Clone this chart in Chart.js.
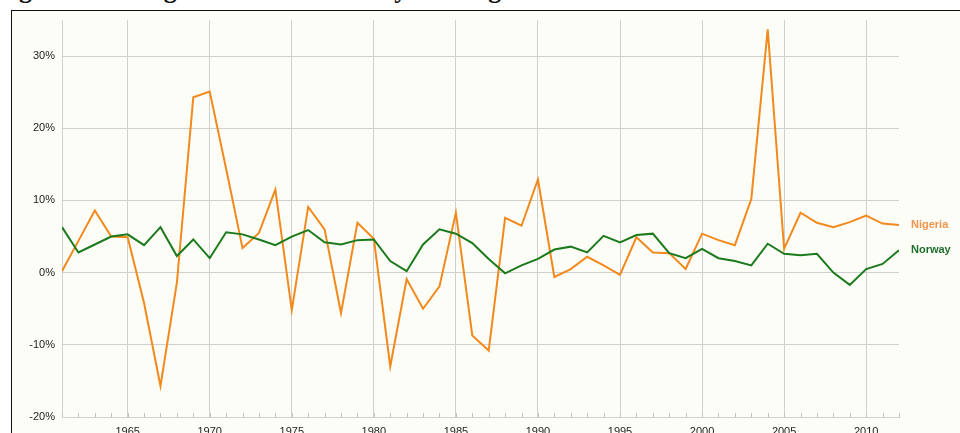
<!DOCTYPE html>
<html>
<head>
<meta charset="utf-8">
<script src="https://cdn.jsdelivr.net/npm/chart.js@4.4.0/dist/chart.umd.min.js"></script>
<style>
  html, body { margin: 0; padding: 0; background: #fff; overflow: hidden; width: 960px; height: 433px; }
  #title { position: absolute; left: -4px; top: -23px; font: bold 26px "Liberation Serif", "Times New Roman", serif; line-height: 26px; color: #111; white-space: nowrap; }
  #frame { position: absolute; left: 11px; top: 10px; width: 980px; height: 460px; border-top: 1px solid #111; border-left: 1px solid #111; background: #fdfdf8; }
  #c { position: absolute; left: 0; top: 0; }
</style>
</head>
<body>
<div id="title">Figure 1: GDP growth rates: Norway and Nigeria</div>
<div id="frame"></div>
<canvas id="c" width="960" height="445"></canvas>
<script>
// GDP growth, annual %
var years = [];
for (var y = 1961; y <= 2012; y++) years.push(y);

var nigeria = [0.2, 4.4, 8.6, 5.0, 4.9, -4.2, -15.7, -1.4, 24.3, 25.1,
               14.4, 3.4, 5.5, 11.5, -5.2, 9.1, 6.0, -5.6, 6.9, 4.7,
               -13.0, -0.9, -5.0, -1.9, 8.3, -8.7, -10.8, 7.6, 6.5, 12.9,
               -0.6, 0.5, 2.2, 1.0, -0.3, 4.9, 2.8, 2.7, 0.5, 5.4,
               4.5, 3.8, 10.2, 33.7, 3.3, 8.3, 6.9, 6.3, 7.0, 7.9,
               6.8, 6.6];

var norway = [6.3, 2.8, 3.9, 5.0, 5.3, 3.8, 6.3, 2.3, 4.6, 2.0,
              5.6, 5.3, 4.6, 3.8, 5.0, 5.9, 4.2, 3.9, 4.5, 4.6,
              1.6, 0.2, 3.9, 6.0, 5.4, 4.1, 1.9, -0.1, 1.0, 1.9,
              3.2, 3.6, 2.8, 5.1, 4.2, 5.2, 5.4, 2.7, 2.0, 3.3,
              2.0, 1.6, 1.0, 4.0, 2.6, 2.4, 2.6, 0.0, -1.7, 0.5,
              1.2, 3.1];

var yTicks = [-20, -10, 0, 10, 20, 30];

var gridCol = '#d0d0d0';

function toPoints(vals) {
  var pts = [];
  for (var i = 0; i < vals.length; i++) pts.push({x: years[i], y: vals[i]});
  return pts;
}

// series name at end of each line
var endLabels = {
  id: 'endLabels',
  afterDatasetsDraw: function(chart) {
    var ctx = chart.ctx;
    ctx.save();
    ctx.font = 'bold 11px "Liberation Sans", Arial, sans-serif';
    ctx.textBaseline = 'middle';
    ctx.textAlign = 'left';
    chart.data.datasets.forEach(function(ds, i) {
      var meta = chart.getDatasetMeta(i);
      var last = meta.data[meta.data.length - 1];
      ctx.fillStyle = ds.labelColor;
      ctx.fillText(ds.label, last.x + 12, last.y);
    });
    ctx.restore();
  }
};

// little year ticks standing on the bottom axis
var minorTicks = {
  id: 'minorTicks',
  beforeDatasetsDraw: function(chart) {
    var ctx = chart.ctx, xs = chart.scales.x, bottom = chart.chartArea.bottom;
    ctx.save();
    ctx.strokeStyle = '#c4c4c4';
    ctx.lineWidth = 1;
    xs.ticks.forEach(function(t) {
      var px = Math.round(xs.getPixelForValue(t.value)) + 0.5;
      ctx.beginPath();
      ctx.moveTo(px, bottom - 4);
      ctx.lineTo(px, bottom);
      ctx.stroke();
    });
    ctx.restore();
  }
};

var myChart = new Chart(document.getElementById('c').getContext('2d'), {
  type: 'line',
  data: {
    datasets: [
      { label: 'Norway', data: toPoints(norway), borderColor: '#1b7a1b', labelColor: '#1e6e2c',
        borderWidth: 2, pointRadius: 0, tension: 0, fill: false },
      { label: 'Nigeria', data: toPoints(nigeria), borderColor: '#f2891d', labelColor: '#f0944a',
        borderWidth: 2, pointRadius: 0, tension: 0, fill: false }
    ]
  },
  options: {
    responsive: false,
    animation: false,
    devicePixelRatio: 1,
    layout: { padding: { left: 0, top: 20, right: 61, bottom: 0 } },
    plugins: { legend: { display: false }, tooltip: { enabled: false }, title: { display: false } },
    scales: {
      x: {
        type: 'linear',
        min: 1961,
        max: 2012,
        afterFit: function(s) { s.height = 28; },
        ticks: {
          stepSize: 1,
          autoSkip: false,
          maxRotation: 0,
          padding: 8,
          color: '#222',
          font: { family: '"Liberation Sans", Arial, sans-serif', size: 11 },
          callback: function(v) { return v % 5 === 0 ? String(v) : ''; }
        },
        grid: {
          drawTicks: false,
          color: function(c) { return (c.tick && c.tick.value % 5 === 0) ? gridCol : 'rgba(0,0,0,0)'; }
        },
        border: { display: true, color: gridCol }
      },
      y: {
        min: -20,
        max: 35,
        afterFit: function(s) { s.width = 62; },
        afterBuildTicks: function(s) {
          s.ticks = yTicks.map(function(v) { return {value: v}; });
        },
        ticks: {
          padding: 7,
          color: '#222',
          font: { family: '"Liberation Sans", Arial, sans-serif', size: 11 },
          callback: function(v) { return v + '%'; }
        },
        grid: { drawTicks: false, color: gridCol },
        border: { display: true, color: gridCol }
      }
    }
  },
  plugins: [endLabels, minorTicks]
});
</script>
</body>
</html>
